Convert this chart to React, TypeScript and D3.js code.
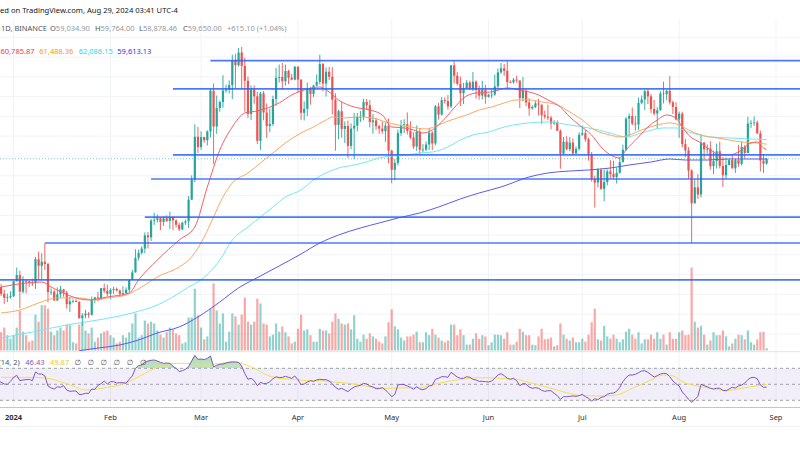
import { useMemo } from "react";
import * as d3 from "d3";

// BTCUSDT 1D, first candle is this day
const firstDay = "2023-12-27";

// [open, high, low, close]
const candles: [number, number, number, number][] = [
  // Dec 27 - 31
  [42520, 43680, 42100, 43440], [43440, 43800, 42300, 42580], [42580, 43120, 41300, 42070],
  [42070, 42600, 41520, 42140], [42140, 42900, 41960, 42280],
  // Jan
  [42280, 44180, 42180, 44180], [44180, 45900, 44150, 44950], [44950, 45500, 40750, 42850],
  [42850, 44800, 42620, 44180], [44180, 44340, 42630, 44160], [44160, 44230, 43420, 43970],
  [43970, 44500, 43550, 43930], [43930, 47250, 43200, 46950], [46950, 47900, 44300, 46110],
  [46110, 47700, 44300, 46630], [46630, 48970, 45600, 46340], [46340, 46500, 41500, 42780],
  [42780, 43260, 42430, 42840], [42840, 43070, 41720, 41730], [41730, 43400, 41700, 42510],
  [42510, 43580, 42050, 43140], [43140, 43200, 42200, 42740], [42740, 42930, 40700, 41260],
  [41260, 42200, 40280, 41620], [41620, 41870, 41450, 41660], [41660, 41880, 41500, 41540],
  [41540, 41650, 39430, 39500], [39500, 40130, 38555, 39850], [39850, 40550, 39490, 40080],
  [40080, 40280, 39550, 39930], [39930, 42230, 39820, 41820], [41820, 42200, 41390, 42120],
  [42120, 42840, 41620, 42030], [42030, 43300, 41800, 43300], [43300, 43880, 42680, 42950],
  [42950, 43740, 42280, 42580],
  // Feb
  [42580, 43290, 41880, 43080], [43080, 43480, 42560, 43200], [43200, 43380, 42880, 42990],
  [42990, 43120, 42260, 42580], [42580, 43530, 42250, 42660], [42660, 43400, 42570, 43090],
  [43090, 44380, 42780, 44340], [44340, 45600, 44330, 45290], [45290, 48200, 45240, 47130],
  [47130, 48170, 46800, 47750], [47750, 48590, 47540, 48290], [48290, 50330, 47700, 49960],
  [49960, 50370, 48300, 49720], [49720, 52040, 49250, 51830], [51830, 52820, 51300, 51930],
  [51930, 52580, 51600, 52130], [52130, 52200, 50620, 51660], [51660, 52350, 51170, 52120],
  [52120, 52490, 51650, 51780], [51780, 52980, 50760, 52260], [52260, 52360, 50620, 51850],
  [51850, 52000, 50950, 51300], [51300, 51550, 50520, 50730], [50730, 51680, 50580, 51570],
  [51570, 51950, 51280, 51730], [51730, 54940, 50900, 54480], [54480, 57550, 54450, 57040],
  [57040, 64000, 56690, 62430], [62430, 63680, 60360, 61130],
  // Mar
  [61130, 63110, 60780, 62390], [62390, 62430, 61700, 61990], [61990, 63230, 61320, 63110],
  [63110, 68500, 62330, 68250], [68250, 69170, 59000, 63720], [63720, 67640, 62800, 66070],
  [66070, 67000, 65600, 66810], [66810, 70200, 66100, 68260], [68260, 69000, 68000, 68390],
  [68390, 69550, 67900, 68960], [68960, 72800, 67190, 72100], [72100, 72900, 68600, 71480],
  [71480, 73650, 71300, 73080], [73080, 73777, 68550, 71390], [71390, 72420, 65600, 69500],
  [69500, 70040, 64780, 65300], [65300, 68900, 64550, 68390], [68390, 68920, 66600, 67550],
  [67550, 68100, 61500, 61910], [61910, 68100, 60780, 67910], [67910, 68200, 64500, 65490],
  [65490, 66650, 62260, 63780], [63780, 65980, 63000, 64040], [64040, 67620, 63800, 67210],
  [67210, 71150, 66380, 69880], [69880, 71560, 69280, 69990], [69990, 71770, 68380, 69450],
  [69450, 71550, 68900, 70740], [70740, 70900, 69080, 69890], [69890, 70350, 69570, 69650],
  [69650, 71370, 69560, 71280],
  // Apr
  [71280, 71340, 68100, 69650], [69650, 69670, 64550, 65460], [65460, 66900, 64490, 65960],
  [65960, 69290, 65060, 68490], [68490, 68720, 66500, 67840], [67840, 69000, 67450, 68900],
  [68900, 70300, 68800, 69360], [69360, 72800, 69040, 71620], [71620, 71760, 68210, 69150],
  [69150, 71170, 67520, 70640], [70640, 71260, 69570, 70010], [70010, 71230, 65250, 67120],
  [67120, 67930, 60660, 63920], [63920, 65840, 62130, 65660], [65660, 66870, 62300, 63420],
  [63420, 64360, 61650, 63790], [63790, 64480, 59770, 61280], [61280, 64120, 60820, 63470],
  [63470, 65450, 59600, 63820], [63820, 65430, 63100, 64940], [64940, 65700, 64280, 64940],
  [64940, 67230, 64500, 66840], [66840, 67200, 65800, 66410], [66410, 67080, 63590, 64280],
  [64280, 65300, 62800, 64500], [64500, 64790, 63320, 63770], [63770, 63920, 62790, 63460],
  [63460, 64350, 62810, 63120], [63120, 64230, 61770, 63840], [63840, 64730, 59100, 60670],
  // May
  [60670, 60780, 56550, 58250], [58250, 59600, 56940, 59120], [59120, 63320, 58800, 62890],
  [62890, 64530, 62550, 63890], [63890, 64650, 62900, 64010], [64010, 65500, 62700, 63160],
  [63160, 64400, 62150, 62330], [62330, 62990, 60880, 61190], [61190, 63850, 60630, 63070],
  [63070, 63470, 60190, 60790], [60790, 61490, 60490, 60820], [60820, 61840, 60630, 61450],
  [61450, 63450, 60750, 62940], [62940, 63120, 60760, 61580], [61580, 66450, 61330, 66270],
  [66270, 66700, 64600, 65230], [65230, 67450, 65100, 67050], [67050, 67400, 66600, 66940],
  [66940, 67700, 65860, 66270], [66270, 71500, 66060, 71450], [71450, 71980, 69160, 70140],
  [70140, 70630, 68920, 69120], [69120, 70040, 66310, 67930], [67930, 69240, 66560, 68530],
  [68530, 69590, 68500, 69280], [69280, 69520, 68360, 68500], [68500, 70600, 68220, 69390],
  [69390, 69560, 67250, 68360], [68360, 68900, 67120, 67630], [67630, 69500, 67140, 68350],
  [68350, 69000, 66600, 67470],
  // Jun
  [67470, 67860, 67390, 67760], [67760, 68450, 67300, 67760], [67760, 70290, 67610, 68800],
  [68800, 71060, 68560, 70570], [70570, 71750, 70380, 71080], [71080, 71630, 70120, 70760],
  [70760, 71980, 68500, 69340], [69340, 69570, 69210, 69310], [69310, 69850, 69130, 69650],
  [69650, 70150, 69230, 69540], [69540, 69550, 66050, 67310], [67310, 69990, 66900, 68240],
  [68240, 68450, 66300, 66760], [66760, 67300, 65080, 66010], [66010, 66400, 65870, 66190],
  [66190, 66930, 66040, 66640], [66640, 67240, 65100, 66490], [66490, 66490, 64060, 65160],
  [65160, 65730, 64690, 64960], [64960, 66480, 64530, 64830], [64830, 65070, 63380, 64100],
  [64100, 64520, 63940, 64250], [64250, 64490, 63180, 63180], [63180, 63370, 58400, 60280],
  [60280, 62400, 60240, 61800], [61800, 62480, 60710, 60860], [60860, 62390, 60600, 61700],
  [61700, 62220, 60040, 60320], [60320, 61200, 60260, 60900], [60900, 63000, 60680, 62680],
  // Jul
  [62680, 63840, 62550, 62880], [62880, 63300, 61810, 62110], [62110, 62300, 59400, 60200],
  [60200, 60500, 56770, 57040], [57040, 57500, 53480, 56640], [56640, 58480, 56020, 58230],
  [58230, 58440, 55720, 55850], [55850, 58240, 54260, 56710], [56710, 58300, 56300, 58050],
  [58050, 59470, 57160, 57720], [57720, 59400, 57050, 57340], [57340, 58520, 56520, 57880],
  [57880, 59850, 57760, 59210], [59210, 61420, 59210, 60790], [60790, 64900, 60630, 64720],
  [64720, 65380, 62400, 65040], [65040, 66130, 63880, 64090], [64090, 65100, 63200, 63970],
  [63970, 67390, 63300, 66710], [66710, 67650, 66530, 67150], [67150, 68370, 65800, 68190],
  [68190, 68480, 66580, 67540], [67540, 67820, 65450, 65940], [65940, 67100, 65120, 65370],
  [65370, 66170, 63400, 65780], [65780, 68200, 65740, 67900], [67900, 69400, 66650, 67810],
  [67810, 68320, 67060, 68250], [68250, 70080, 66500, 66780], [66780, 66990, 65300, 66190],
  [66190, 66800, 64500, 64620],
  // Aug
  [64620, 65600, 62300, 65350], [65350, 65600, 61100, 61500], [61500, 62170, 59850, 60700],
  [60700, 61120, 57120, 58160], [58160, 58300, 49000, 54020], [54020, 57040, 53970, 56030],
  [56030, 57720, 54560, 55130], [55130, 62750, 54730, 61690], [61690, 61750, 59590, 60840],
  [60840, 61470, 60280, 60920], [60920, 61860, 58290, 58710], [58710, 60680, 57690, 59350],
  [59350, 61570, 58410, 60600], [60600, 61800, 58430, 58740], [58740, 59850, 56080, 57560],
  [57560, 59820, 57100, 58870], [58870, 59690, 58800, 59480], [59480, 60260, 58420, 58430],
  [58430, 59620, 57860, 59480], [59480, 61400, 58620, 59010], [59010, 61820, 58780, 61160],
  [61160, 61400, 59720, 60380], [60380, 64950, 60350, 64100], [64100, 64520, 63550, 64180],
  [64180, 65000, 63800, 64230], [64230, 64480, 62800, 62840], [62840, 63220, 58030, 59420],
  [59420, 60240, 57860, 59030], [59034.9, 59764, 58878.46, 59650],
];

// volume, thousand BTC, same days as candles
const volumes = [
  31, 31, 39, 26, 20,
  26, 39, 68, 32, 26, 15, 17, 61, 49, 77, 77, 71, 32, 26, 34, 39, 34, 44, 43, 14, 12, 44, 49, 34, 29, 39, 15, 22, 29, 32, 34,
  26, 22, 12, 15, 26, 22, 31, 46, 63, 22, 26, 51, 46, 49, 46, 34, 27, 22, 31, 39, 36, 29, 26, 12, 14, 56, 56, 105, 60,
  39, 19, 24, 71, 114, 68, 46, 63, 15, 32, 63, 58, 44, 61, 90, 49, 44, 49, 88, 80, 46, 44, 24, 27, 46, 32, 41, 31, 24, 12, 15,
  37, 61, 34, 36, 26, 15, 15, 37, 34, 34, 29, 49, 63, 54, 46, 44, 46, 36, 60, 20, 15, 27, 20, 29, 24, 20, 15, 12, 24, 48,
  70, 41, 36, 22, 17, 24, 24, 27, 32, 14, 14, 31, 26, 37, 27, 22, 17, 14, 17, 44, 44, 26, 36, 26, 10, 10, 20, 29, 20, 26, 24,
  9, 14, 27, 27, 26, 20, 31, 10, 10, 15, 37, 32, 26, 26, 10, 9, 24, 37, 19, 20, 22, 7, 9, 46, 27, 20, 17, 22, 14, 14,
  20, 15, 27, 48, 71, 19, 17, 42, 24, 20, 27, 20, 14, 19, 32, 37, 27, 20, 31, 12, 19, 19, 27, 20, 31, 20, 27, 10, 31, 20, 20,
  31, 34, 26, 27, 141, 49, 39, 42, 27, 10, 17, 31, 26, 26, 34, 24, 7, 12, 20, 27, 26, 19, 34, 14, 10, 19, 31, 32, 4,
];

// RSI 14, same days as candles
const rsi = [
  54.5, 52.5, 50.4, 50.0, 53.7,
  58.7, 61.2, 54.5, 55.4, 55.8, 56.2, 54.5, 65.4, 62.9, 62.9, 60.4, 47.9, 45.4, 44.1, 47.0, 46.2, 48.3, 42.9, 41.2, 41.6, 41.6, 37.0, 37.5, 38.7, 38.7, 44.1, 43.7, 48.7, 50.8, 54.1, 50.4,
  53.3, 53.3, 51.6, 52.0, 52.0, 51.2, 56.2, 60.4, 70.0, 73.3, 74.1, 77.5, 79.1, 80.0, 80.4, 79.1, 77.5, 76.2, 76.6, 76.2, 72.5, 70.0, 65.8, 67.0, 68.7, 72.0, 79.1, 86.2, 81.2,
  81.6, 80.8, 82.5, 85.4, 72.0, 73.7, 75.0, 75.4, 76.6, 77.5, 77.9, 77.9, 77.5, 72.9, 63.3, 56.2, 57.5, 54.5, 48.3, 52.5, 50.8, 51.2, 53.3, 57.0, 59.5, 58.3, 58.7, 60.0, 58.7, 57.5, 60.4,
  55.8, 49.5, 50.4, 52.9, 54.5, 53.7, 55.4, 56.2, 55.8, 55.8, 54.1, 50.8, 46.2, 43.7, 45.0, 42.9, 40.8, 44.1, 46.6, 47.9, 48.7, 51.2, 50.4, 47.9, 46.6, 44.6, 44.6, 45.8, 42.9, 39.1,
  34.5, 37.5, 49.1, 50.0, 49.5, 47.9, 46.2, 43.7, 47.0, 44.1, 43.3, 44.6, 47.9, 48.7, 56.2, 57.5, 59.5, 59.5, 58.7, 65.0, 62.0, 59.1, 57.5, 57.5, 59.5, 58.7, 56.2, 55.4, 53.7, 53.7, 53.3,
  52.9, 54.1, 57.5, 61.6, 63.3, 60.8, 57.5, 56.2, 57.5, 54.5, 48.3, 50.8, 50.4, 46.6, 45.0, 45.8, 45.0, 42.5, 41.2, 42.0, 42.0, 38.7, 35.8, 31.2, 34.5, 34.5, 35.0, 35.4, 35.0, 35.8,
  37.5, 34.5, 32.5, 29.1, 32.0, 30.8, 33.7, 34.5, 37.5, 38.7, 39.1, 41.2, 46.2, 53.3, 58.3, 61.6, 61.6, 62.5, 64.5, 66.6, 67.0, 65.0, 62.0, 59.1, 60.8, 62.9, 63.7, 63.3, 59.5, 54.1, 50.8,
  47.9, 40.4, 36.2, 31.2, 27.5, 30.8, 35.0, 50.0, 48.3, 47.0, 45.0, 44.1, 45.0, 45.0, 42.5, 42.0, 44.1, 46.2, 45.4, 47.9, 49.1, 51.6, 55.8, 58.3, 58.7, 57.0, 49.1, 46.2, 46.43,
];

// RSI-based MA (yellow), read at points
const rsiMa: [string, number][] = [
  ["2023-12-28", 58.7], ["2024-01-07", 58.7], ["2024-01-12", 57.5], ["2024-01-16", 53.3], ["2024-01-20", 47.9],
  ["2024-01-24", 42.9], ["2024-01-27", 43.7], ["2024-01-31", 46.2], ["2024-02-04", 49.1], ["2024-02-08", 55.4],
  ["2024-02-13", 65.8], ["2024-02-17", 72.9], ["2024-02-21", 76.2], ["2024-02-25", 76.2], ["2024-03-01", 75.4],
  ["2024-03-05", 75.4], ["2024-03-09", 77.0], ["2024-03-11", 78.3], ["2024-03-13", 77.0], ["2024-03-18", 70.0],
  ["2024-03-22", 61.6], ["2024-03-26", 57.5], ["2024-03-31", 56.2], ["2024-04-04", 54.5], ["2024-04-08", 54.5],
  ["2024-04-12", 53.3], ["2024-04-17", 51.2], ["2024-04-21", 49.1], ["2024-04-25", 46.2], ["2024-04-29", 45.0],
  ["2024-05-04", 45.4], ["2024-05-10", 46.2], ["2024-05-16", 51.2], ["2024-05-23", 56.2], ["2024-05-29", 58.3],
  ["2024-06-05", 57.5], ["2024-06-10", 56.2], ["2024-06-15", 51.2], ["2024-06-21", 45.0], ["2024-06-26", 39.5],
  ["2024-07-01", 35.8], ["2024-07-07", 35.4], ["2024-07-12", 36.6], ["2024-07-17", 45.0], ["2024-07-23", 55.4],
  ["2024-07-27", 61.6], ["2024-07-30", 60.4], ["2024-08-02", 53.3], ["2024-08-08", 47.0], ["2024-08-13", 43.7],
  ["2024-08-16", 41.6], ["2024-08-18", 42.9], ["2024-08-24", 47.0], ["2024-08-29", 49.87],
];

// moving averages, read at points
const maRed: [string, number][] = [
  ["2023-12-28", 43440], ["2024-01-10", 44070], ["2024-01-13", 43440], ["2024-01-25", 41800], ["2024-01-31", 42180],
  ["2024-02-07", 42680], ["2024-02-10", 44330], ["2024-02-16", 46850], ["2024-02-23", 49380], ["2024-02-28", 51030],
  ["2024-03-03", 56080], ["2024-03-07", 60760], ["2024-03-11", 63670], ["2024-03-15", 65440], ["2024-03-19", 65690],
  ["2024-03-26", 66700], ["2024-03-30", 67710], ["2024-04-03", 68340], ["2024-04-08", 68720], ["2024-04-11", 68090],
  ["2024-04-14", 67080], ["2024-04-19", 66190], ["2024-04-24", 65810], ["2024-04-28", 65180], ["2024-05-01", 63670],
  ["2024-05-05", 63540], ["2024-05-08", 63290], ["2024-05-11", 62910], ["2024-05-14", 63290], ["2024-05-17", 64300],
  ["2024-05-21", 66070], ["2024-05-24", 67330], ["2024-05-28", 67960], ["2024-06-02", 68090], ["2024-06-07", 68600],
  ["2024-06-11", 68340], ["2024-06-14", 68090], ["2024-06-17", 67710], ["2024-06-20", 67080], ["2024-06-24", 66190],
  ["2024-06-27", 64930], ["2024-06-30", 63920], ["2024-07-04", 62650], ["2024-07-07", 61140], ["2024-07-10", 60130],
  ["2024-07-13", 59750], ["2024-07-15", 60760], ["2024-07-19", 62400], ["2024-07-22", 63670], ["2024-07-25", 64550],
  ["2024-07-28", 65180], ["2024-07-31", 64800], ["2024-08-02", 63670], ["2024-08-04", 62650], ["2024-08-08", 61640],
  ["2024-08-11", 60760], ["2024-08-14", 60130], ["2024-08-17", 60130], ["2024-08-20", 60500], ["2024-08-24", 61640],
  ["2024-08-26", 61770], ["2024-08-28", 61010], ["2024-08-29", 60785.87],
];
const maOrange: [string, number][] = [
  ["2023-12-28", 40160], ["2024-01-03", 40530], ["2024-01-09", 41420], ["2024-01-15", 42050], ["2024-01-22", 42050],
  ["2024-01-27", 41800], ["2024-01-31", 42050], ["2024-02-06", 42430], ["2024-02-11", 43440], ["2024-02-16", 44710],
  ["2024-02-23", 45970], ["2024-02-27", 47230], ["2024-03-02", 49760], ["2024-03-05", 52290], ["2024-03-08", 54820],
  ["2024-03-11", 56590], ["2024-03-16", 57850], ["2024-03-20", 59120], ["2024-03-24", 60380], ["2024-03-28", 61640],
  ["2024-04-02", 62910], ["2024-04-06", 63670], ["2024-04-10", 64550], ["2024-04-12", 64930], ["2024-04-16", 64800],
  ["2024-04-20", 64930], ["2024-04-25", 64800], ["2024-04-29", 64300], ["2024-05-03", 63920], ["2024-05-07", 63670],
  ["2024-05-12", 63410], ["2024-05-16", 63920], ["2024-05-20", 64550], ["2024-05-25", 65180], ["2024-05-29", 65810],
  ["2024-06-02", 66190], ["2024-06-06", 66700], ["2024-06-10", 67080], ["2024-06-14", 67080], ["2024-06-18", 66830],
  ["2024-06-23", 66450], ["2024-06-27", 65560], ["2024-07-01", 64550], ["2024-07-05", 63290], ["2024-07-10", 62650],
  ["2024-07-13", 62400], ["2024-07-16", 62650], ["2024-07-20", 63290], ["2024-07-25", 63920], ["2024-07-29", 64170],
  ["2024-08-01", 63920], ["2024-08-04", 63290], ["2024-08-08", 62650], ["2024-08-13", 62280], ["2024-08-17", 62020],
  ["2024-08-21", 61770], ["2024-08-26", 61640], ["2024-08-29", 61488.36],
];
const maCyan: [string, number][] = [
  ["2023-12-28", 37000], ["2024-01-07", 37750], ["2024-01-18", 38640], ["2024-01-28", 39270], ["2024-02-08", 40160],
  ["2024-02-16", 41170], ["2024-02-22", 42430], ["2024-02-26", 43440], ["2024-02-29", 44070], ["2024-03-07", 46850],
  ["2024-03-11", 49380], ["2024-03-16", 51030], ["2024-03-20", 52290], ["2024-03-24", 53550], ["2024-03-28", 54820],
  ["2024-04-02", 55700], ["2024-04-06", 56970], ["2024-04-10", 57850], ["2024-04-14", 58480], ["2024-04-19", 58860],
  ["2024-04-23", 59240], ["2024-04-27", 59750], ["2024-05-01", 60000], ["2024-05-06", 60130], ["2024-05-10", 60380],
  ["2024-05-14", 60500], ["2024-05-19", 61140], ["2024-05-23", 62020], ["2024-05-27", 62650], ["2024-06-01", 63030],
  ["2024-06-05", 63540], ["2024-06-09", 63920], ["2024-06-14", 64170], ["2024-06-20", 64300], ["2024-06-27", 63920],
  ["2024-07-03", 63540], ["2024-07-10", 62910], ["2024-07-15", 62400], ["2024-07-20", 62910], ["2024-07-27", 63540],
  ["2024-07-31", 63540], ["2024-08-04", 63030], ["2024-08-11", 62400], ["2024-08-17", 62280], ["2024-08-23", 62150],
  ["2024-08-29", 62086.15],
];
const maBlue: [string, number][] = [
  ["2024-01-22", 35390], ["2024-01-28", 35720], ["2024-02-04", 36110], ["2024-02-10", 36740], ["2024-02-16", 37630],
  ["2024-02-23", 38390], ["2024-02-29", 39650], ["2024-03-07", 41550], ["2024-03-13", 43320], ["2024-03-20", 44830],
  ["2024-03-26", 46100], ["2024-04-02", 47610], ["2024-04-08", 49000], ["2024-04-14", 50010], ["2024-04-21", 50900],
  ["2024-04-27", 51530], ["2024-05-03", 52160], ["2024-05-10", 52800], ["2024-05-16", 53550], ["2024-05-23", 54570],
  ["2024-05-29", 55320], ["2024-06-05", 56080], ["2024-06-14", 57350], ["2024-06-20", 57850], ["2024-06-27", 58100],
  ["2024-07-03", 58230], ["2024-07-10", 58480], ["2024-07-16", 58860], ["2024-07-23", 59240], ["2024-07-29", 59620],
  ["2024-08-03", 59490], ["2024-08-10", 59490], ["2024-08-17", 59620], ["2024-08-29", 59613.13],
];

// horizontal drawings: start day, price
const levels: [string, number][] = [
  ["2023-12-01", 44330],
  ["2024-01-11", 49000],
  ["2024-02-12", 52270],
  ["2024-02-14", 57090],
  ["2024-02-21", 60140],
  ["2024-02-21", 68470],
  ["2024-03-04", 72040],
];

const lastClose = 59650;

const monthTicks: [string, string][] = [
  ["2024-01-01", "2024"], ["2024-02-01", "Feb"], ["2024-03-01", "Mar"], ["2024-04-01", "Apr"],
  ["2024-05-01", "May"], ["2024-06-01", "Jun"], ["2024-07-01", "Jul"], ["2024-08-01", "Aug"],
  ["2024-09-01", "Sep"],
];

const title = "ed on TradingView.com, Aug 29, 2024 03:41 UTC-4";
const symbolLabel = "1D, BINANCE";
const ohlcLabels = ["O", "H", "L", "C"];
const ohlcValues = ["59,034.90", "59,764.00", "58,878.46", "59,650.00"];
const changeLabel = "+615.10 (+1.04%)";
const maLabels = ["60,785.87", "61,488.36", "62,086.15", "59,613.13"];
const rsiLabels = ["(14, 2)", "46.43", "49.87"];

const UP = "#26a69a";
const DOWN = "#ef5350";
const FONT = "'Noto Sans', 'DejaVu Sans', sans-serif";

const parse = d3.utcParse("%Y-%m-%d");

export default function App() {
  const W = 800;
  const H = 450;
  const paneTop = 19;
  const paneBottom = 351.5;
  const rsiTop = 352;
  const rsiBottom = 407.5;

  const x = d3
    .scaleUtc()
    .domain([parse("2024-01-01")!, parse("2024-09-01")!])
    .range([13.6, 776]);
  const y = d3.scaleLinear().domain([40000, 75000]).range([314.2, 37.3]);
  const yVol = d3.scaleLinear().domain([0, 160]).range([350.5, 256.4]);
  const yRsi = d3.scaleLinear().domain([30, 70]).range([400.3, 368.3]);

  const days = useMemo(() => {
    const s = parse(firstDay)!;
    return candles.map((_, i) => d3.utcDay.offset(s, i));
  }, []);

  const maLine = d3
    .line<[string, number]>()
    .x((d) => x(parse(d[0])!))
    .y((d) => y(d[1]))
    .curve(d3.curveMonotoneX);

  const rsiLine = d3
    .line<number>()
    .x((_, i) => x(days[i]))
    .y((d) => yRsi(d));

  const rsiArea = d3
    .area<number>()
    .x((_, i) => x(days[i]))
    .y0(yRsi(70))
    .y1((d) => yRsi(d));

  const rsiArea30 = d3
    .area<number>()
    .x((_, i) => x(days[i]))
    .y0(yRsi(30))
    .y1((d) => yRsi(d));

  const rsiMaLine = d3
    .line<[string, number]>()
    .x((d) => x(parse(d[0])!))
    .y((d) => yRsi(d[1]))
    .curve(d3.curveMonotoneX);

  const gridPrices = d3.range(32500, 80001, 2500);
  const bw = 2.2;

  const mas: [[string, number][], string][] = [
    [maBlue, "#5a5af2"],
    [maCyan, "#74e6f4"],
    [maOrange, "#f9a860"],
    [maRed, "#f06068"],
  ];
  const maTextColors = ["#f23645", "#ff9800", "#1fd8ec", "#3434ee"];
  const maTextX = [0.5, 39.3, 78.7, 117.3];
  const ohlcX = [50, 95, 139, 183];

  return (
    <div style={{ position: "fixed", left: 0, top: 0, width: W, height: H, background: "#fff" }}>
      <svg width={W} height={H} style={{ display: "block", fontFamily: FONT }}>
        <defs>
          <clipPath id="mainClip">
            <rect x={0} y={paneTop} width={W} height={paneBottom - paneTop} />
          </clipPath>
          <clipPath id="rsiClip">
            <rect x={0} y={rsiTop} width={W} height={rsiBottom - rsiTop} />
          </clipPath>
          <clipPath id="obClip">
            <rect x={0} y={rsiTop} width={W} height={yRsi(70) - rsiTop} />
          </clipPath>
          <clipPath id="osClip">
            <rect x={0} y={yRsi(30)} width={W} height={rsiBottom - yRsi(30)} />
          </clipPath>
          <linearGradient id="obGrad" x1="0" y1="0" x2="0" y2="1">
            <stop offset="0%" stopColor="#4caf50" stopOpacity={0.45} />
            <stop offset="100%" stopColor="#4caf50" stopOpacity={0.08} />
          </linearGradient>
        </defs>

        <rect x={0} y={0} width={W} height={H} fill="#fff" />

        {/* grid */}
        <g stroke="#f0f3fa" strokeWidth={1}>
          {gridPrices.map((p) => (
            <line key={p} x1={0} x2={W} y1={y(p)} y2={y(p)} clipPath="url(#mainClip)" />
          ))}
          {monthTicks.map(([d]) => (
            <line key={d} x1={x(parse(d)!)} x2={x(parse(d)!)} y1={paneTop} y2={rsiBottom} />
          ))}
        </g>

        <g clipPath="url(#mainClip)">
          {/* volume */}
          {volumes.map((v, i) => {
            const [o, , , c] = candles[i];
            const cx = x(days[i]);
            return (
              <rect
                key={i}
                x={cx - bw / 2}
                y={yVol(v)}
                width={bw}
                height={yVol(0) - yVol(v)}
                fill={c >= o ? UP : DOWN}
                fillOpacity={0.5}
              />
            );
          })}

          {/* last price line */}
          <line
            x1={0}
            x2={W}
            y1={y(lastClose)}
            y2={y(lastClose)}
            stroke={UP}
            strokeOpacity={0.6}
            strokeDasharray="1 2"
          />

          {/* candles */}
          {candles.map(([o, h, l, c], i) => {
            const cx = x(days[i]);
            const col = c >= o ? UP : DOWN;
            const top = y(Math.max(o, c));
            const bot = y(Math.min(o, c));
            return (
              <g key={i}>
                <line x1={cx} x2={cx} y1={y(h)} y2={y(l)} stroke={col} strokeWidth={0.9} />
                <rect x={cx - bw / 2} y={top} width={bw} height={Math.max(0.8, bot - top)} fill={col} />
              </g>
            );
          })}

          {/* moving averages */}
          {mas.map(([data, col], i) => (
            <path key={i} d={maLine(data) ?? ""} fill="none" stroke={col} strokeWidth={1} />
          ))}

          {/* drawn levels */}
          {levels.map(([d, p], i) => (
            <line
              key={i}
              x1={x(parse(d)!)}
              x2={W}
              y1={y(p)}
              y2={y(p)}
              stroke="#2962ff"
              strokeWidth={1.7}
              strokeOpacity={0.85}
            />
          ))}
        </g>

        {/* header texts */}
        <text x={0} y={10} dominantBaseline="central" fontSize={7.6} fill="#131722">
          {title}
        </text>
        <text x={1} y={28.3} dominantBaseline="central" fontSize={7.5} fill="#50535e">
          {symbolLabel}
        </text>
        {ohlcLabels.map((lab, i) => (
          <text key={lab} x={ohlcX[i]} y={28.3} dominantBaseline="central" fontSize={7.5}>
            <tspan fill="#50535e">{lab}</tspan>
            <tspan fill="#9598a1">{ohlcValues[i]}</tspan>
          </text>
        ))}
        <text x={227} y={28.3} dominantBaseline="central" fontSize={7.5} fill="#9598a1">
          {changeLabel}
        </text>
        {maLabels.map((t, i) => (
          <text key={t} x={maTextX[i]} y={51} dominantBaseline="central" fontSize={7.5} fill={maTextColors[i]}>
            {t}
          </text>
        ))}

        {/* pane separators */}
        <line x1={0} x2={W} y1={paneBottom + 0.2} y2={paneBottom + 0.2} stroke="#e0e3eb" />

        {/* RSI pane */}
        <rect x={0} y={yRsi(70)} width={W} height={yRsi(30) - yRsi(70)} fill="#7e57c2" fillOpacity={0.1} />
        {[70, 50, 30].map((lv) => (
          <line
            key={lv}
            x1={0}
            x2={W}
            y1={yRsi(lv)}
            y2={yRsi(lv)}
            stroke="#9598a1"
            strokeDasharray="3 3"
            strokeWidth={0.9}
          />
        ))}
        <g clipPath="url(#rsiClip)">
          <path d={rsiArea(rsi) ?? ""} fill="url(#obGrad)" clipPath="url(#obClip)" />
          <path d={rsiArea30(rsi) ?? ""} fill="#f23645" fillOpacity={0.15} clipPath="url(#osClip)" />
          <path d={rsiMaLine(rsiMa) ?? ""} fill="none" stroke="#f5df4d" strokeWidth={1} />
          <path d={rsiLine(rsi) ?? ""} fill="none" stroke="#7e57c2" strokeWidth={1} />
        </g>
        <text x={-1.5} y={361.7} dominantBaseline="central" fontSize={7.5} fill="#50535e">
          {rsiLabels[0]}
        </text>
        <text x={25.3} y={361.7} dominantBaseline="central" fontSize={7.5} fill="#7e57c2">
          {rsiLabels[1]}
        </text>
        <text x={50} y={361.7} dominantBaseline="central" fontSize={7.5} fill="#e8cc2a">
          {rsiLabels[2]}
        </text>
        {[77.7, 90.7, 103.7, 116.7, 130, 143.3].map((cx) => (
          <text
            key={cx}
            x={cx}
            y={361.7}
            textAnchor="middle"
            dominantBaseline="central"
            fontSize={7.5}
            fill="#50535e"
          >
            ∅
          </text>
        ))}

        <line x1={0} x2={W} y1={rsiBottom} y2={rsiBottom} stroke="#c4c6cc" strokeWidth={1.2} />

        {/* time axis */}
        {monthTicks.map(([d, lab]) => (
          <text
            key={d}
            x={x(parse(d)!)}
            y={417.3}
            textAnchor="middle"
            dominantBaseline="central"
            fontSize={7.5}
            fontWeight={lab === "2024" ? 700 : 400}
            fill="#2a2e39"
          >
            {lab}
          </text>
        ))}
        <line x1={0} x2={W} y1={426.2} y2={426.2} stroke="#eef0f4" />
      </svg>
    </div>
  );
}
